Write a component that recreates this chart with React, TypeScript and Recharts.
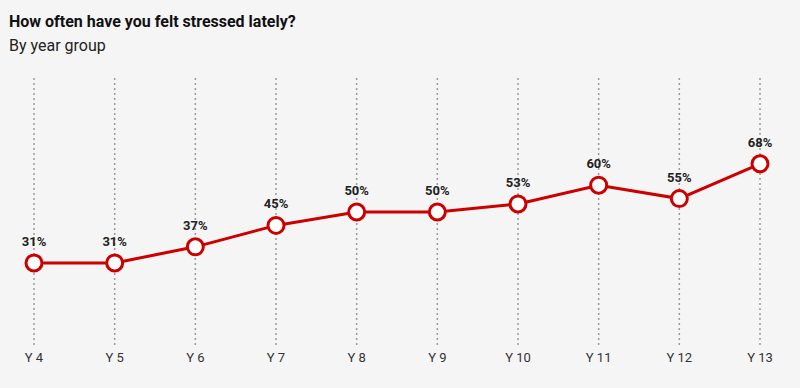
import { LineChart, Line, XAxis, YAxis, CartesianGrid, LabelList } from "recharts";

const years = ["Y 4", "Y 5", "Y 6", "Y 7", "Y 8", "Y 9", "Y 10", "Y 11", "Y 12", "Y 13"];
const stressed = [31, 31, 37, 45, 50, 50, 53, 60, 55, 68];

const data = years.map((year, i) => ({ year, value: stressed[i] }));

const font = "Roboto, 'Noto Sans', sans-serif";

const App = () => {
  return (
    <div
      style={{
        position: "absolute",
        left: 0,
        top: 0,
        width: 800,
        height: 388,
        background: "#f5f5f5",
        fontFamily: font,
        overflow: "hidden"
      }}
    >
      <div style={{ position: "absolute", left: 9, top: 12, fontSize: 16, fontWeight: 700, color: "#111", lineHeight: "20px" }}>
        How often have you felt stressed lately?
      </div>
      <div style={{ position: "absolute", left: 9, top: 36, fontSize: 16, color: "#222", lineHeight: "20px" }}>
        By year group
      </div>
      <div style={{ position: "absolute", left: 0, top: 0 }}>
        <LineChart
          width={800}
          height={388}
          data={data}
          margin={{ top: 78, right: 40, left: 34, bottom: 12 }}
        >
          <CartesianGrid horizontal={false} stroke="#9a9a9a" strokeWidth={1.5} strokeDasharray="2 3" />
          <XAxis
            dataKey="year"
            axisLine={false}
            tickLine={false}
            tickSize={0}
            tickMargin={7}
            height={30}
            interval={0}
            tick={{ fill: "#333", fontSize: 13, fontFamily: font }}
          />
          <YAxis hide domain={[0, 100]} />
          <Line
            type="linear"
            dataKey="value"
            stroke="#cc0000"
            strokeWidth={3}
            dot={{ r: 8, fill: "#fff", stroke: "#cc0000", strokeWidth: 3 }}
            activeDot={false}
            isAnimationActive={false}
          >
            <LabelList
              dataKey="value"
              position="top"
              offset={17}
              formatter={(v: any) => `${v}%`}
              style={{ fill: "#222", fontSize: 13, fontWeight: 700, fontFamily: font }}
            />
          </Line>
        </LineChart>
      </div>
    </div>
  );
};

export default App;
